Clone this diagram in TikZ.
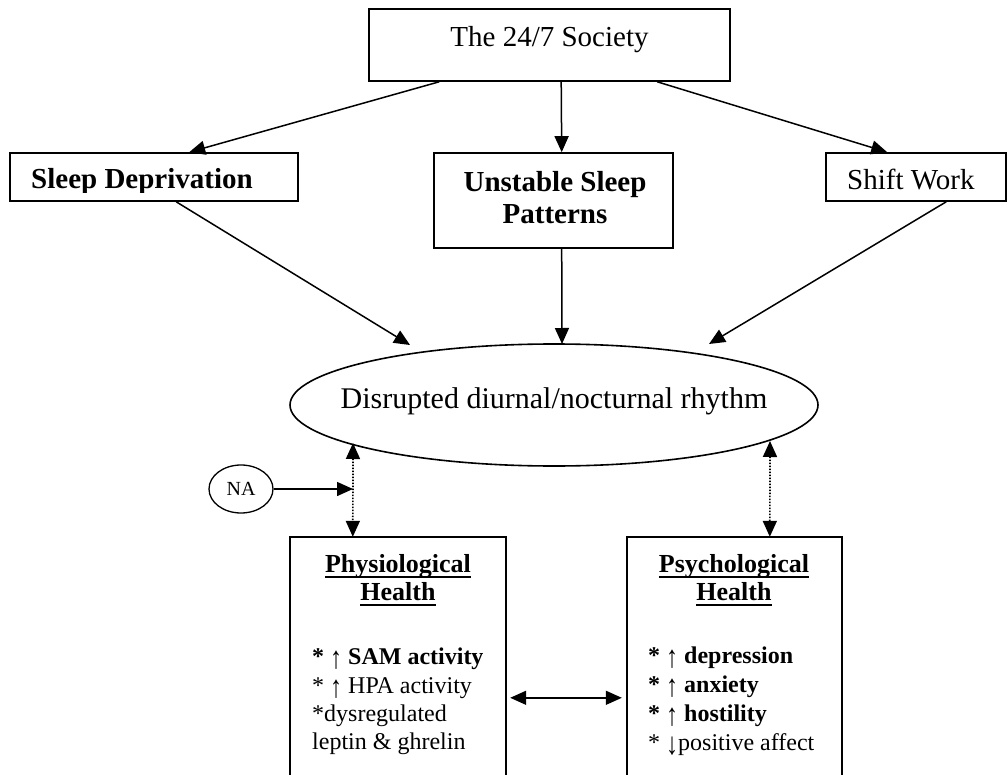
\documentclass[tikz,border=0pt]{standalone}
\usepackage{fontspec}
\usepackage{graphicx}
\setmainfont{Liberation Serif}
\usetikzlibrary{arrows.meta,shapes.geometric}
\newcommand\myul[1]{\setbox0\hbox{#1}\rlap{\rule[-6pt]{\wd0}{2pt}}\box0}
\newcommand\uparr{\smash{\raisebox{-4pt}{\scalebox{1}[1.3]{↑}}}}
\newcommand\dnarr{\smash{\raisebox{-4pt}{\scalebox{1}[1.3]{↓}}}}
\begin{document}
\begin{tikzpicture}[x=1pt,y=-1pt,
  box/.style={draw,line width=1.6pt,inner sep=0pt},
  plain/.style={draw=none,inner sep=0pt},
  big/.style={font=\fontsize{29}{32}\selectfont},
  small/.style={font=\fontsize{24}{28}\selectfont},
  head/.style={font=\fontsize{26}{28}\selectfont\bfseries},
  arr/.style={-{Triangle[length=16pt,width=14pt]},line width=1.5pt},
  darr/.style={{Triangle[length=16pt,width=14pt]}-{Triangle[length=16pt,width=14pt]},line width=1.5pt},
  dotarr/.style={{Triangle[length=16pt,width=14pt]}-{Triangle[length=16pt,width=14pt]},line width=1.7pt,dash pattern=on 1.5pt off 1.5pt}]
\useasboundingbox (0,0) rectangle (1008,775);
% boxes
\node[box,minimum width=361pt,minimum height=72pt] (soc) at (549.5,45) {};
\node[plain,big,anchor=base] (socT) at (549.5,47) {The 24/7 Society};
\node[box,minimum width=288pt,minimum height=48pt] (sd) at (154,177) {};
\begin{scope}
\clip (10,153) rectangle (298,192.5);
\node[plain,anchor=base west,font=\fontsize{29}{32}\selectfont\bfseries] (sdT) at (31,189) {Sleep Deprivation};
\end{scope}
\node[box,minimum width=239pt,minimum height=95pt] (un) at (553.5,200.5) {};
\node[plain,anchor=base,font=\fontsize{29}{32}\selectfont\bfseries] (unT1) at (555,192) {Unstable Sleep};
\node[plain,anchor=base,font=\fontsize{29}{32}\selectfont\bfseries] (unT2) at (555,224) {Patterns};
\node[box,minimum width=180pt,minimum height=48pt] (sw) at (916,177) {};
\node[plain,big,anchor=base west] (swT) at (847,190) {Shift Work};
% ellipse
\draw[line width=1.6pt] (554,405) ellipse [x radius=264, y radius=61];
\node[plain,minimum width=528pt,minimum height=122pt] (ell) at (554,405) {};
\node[plain,anchor=base,font=\fontsize{30}{32}\selectfont] (ellT) at (554,408) {Disrupted diurnal/nocturnal rhythm};
% NA
\node[draw,ellipse,line width=1.3pt,minimum width=64pt,minimum height=48pt,inner sep=0pt,font=\fontsize{20}{22}\selectfont] (na) at (241,489) {NA};
% lower boxes
\node[plain,minimum width=216pt,minimum height=238pt] (ph) at (398,656) {};
\node[plain,minimum width=215pt,minimum height=238pt] (ps) at (734.5,656) {};
\draw[line width=1.6pt] (ph.south west) -- (ph.north west) -- (ph.north east) -- (ph.south east);
\draw[line width=1.6pt] (ps.south west) -- (ps.north west) -- (ps.north east) -- (ps.south east);
\node[plain,head,anchor=base] (phH1) at (398,572) {\myul{Physiological}};
\node[plain,head,anchor=base] (phH2) at (398,600) {\myul{Health}};
\node[plain,head,anchor=base] (psH1) at (734,572) {\myul{Psychological}};
\node[plain,head,anchor=base] (psH2) at (734,600) {\myul{Health}};
\node[plain,small,anchor=base west] (ph1) at (312,664) {{\bfseries *} \uparr{} \textbf{SAM activity}};
\node[plain,small,anchor=base west] (ph2) at (312,693) {* \uparr{} HPA activity};
\node[plain,small,anchor=base west] (ph3) at (312,721) {*dysregulated};
\node[plain,small,anchor=base west] (ph4) at (312,749) {leptin \& ghrelin};
\node[plain,small,anchor=base west] (ps1) at (648,663) {{\bfseries *} \uparr{} \textbf{depression}};
\node[plain,small,anchor=base west] (ps2) at (648,692) {{\bfseries *} \uparr{} \textbf{anxiety}};
\node[plain,small,anchor=base west] (ps3) at (648,721) {{\bfseries *} \uparr{} \textbf{hostility}};
\node[plain,small,anchor=base west] (ps4) at (648,750) {* \dnarr{}positive affect};
% coordinates near the ellipse
\coordinate (e1) at (410,345);
\coordinate (e2) at (562,344);
\coordinate (e3) at (709,344);
\coordinate (d1) at (353,443);
\coordinate (d2) at (770,441);
% connectors
\draw[arr] ([xshift=71pt]soc.south west) -- ([xshift=180pt]sd.north west);
\draw[arr] ([xshift=193pt]soc.south west) -- ([xshift=128.5pt]un.north west);
\draw[arr] ([xshift=289pt]soc.south west) -- ([xshift=62pt]sw.north west);
\draw[arr] ([xshift=167pt]sd.south west) -- (e1);
\draw[arr] ([xshift=128.5pt]un.south west) -- (e2);
\draw[arr] ([xshift=121pt]sw.south west) -- (e3);
\draw[dotarr] (d1) -- ([xshift=63pt]ph.north west);
\draw[dotarr] (d2) -- ([xshift=143pt]ps.north west);
\draw[arr] (na.east) -- (na.east -| d1);
\draw[darr] ([xshift=4pt,yshift=-161pt]ph.north east) -- ([xshift=-5pt,yshift=-161pt]ps.north west);
\end{tikzpicture}
\end{document}
